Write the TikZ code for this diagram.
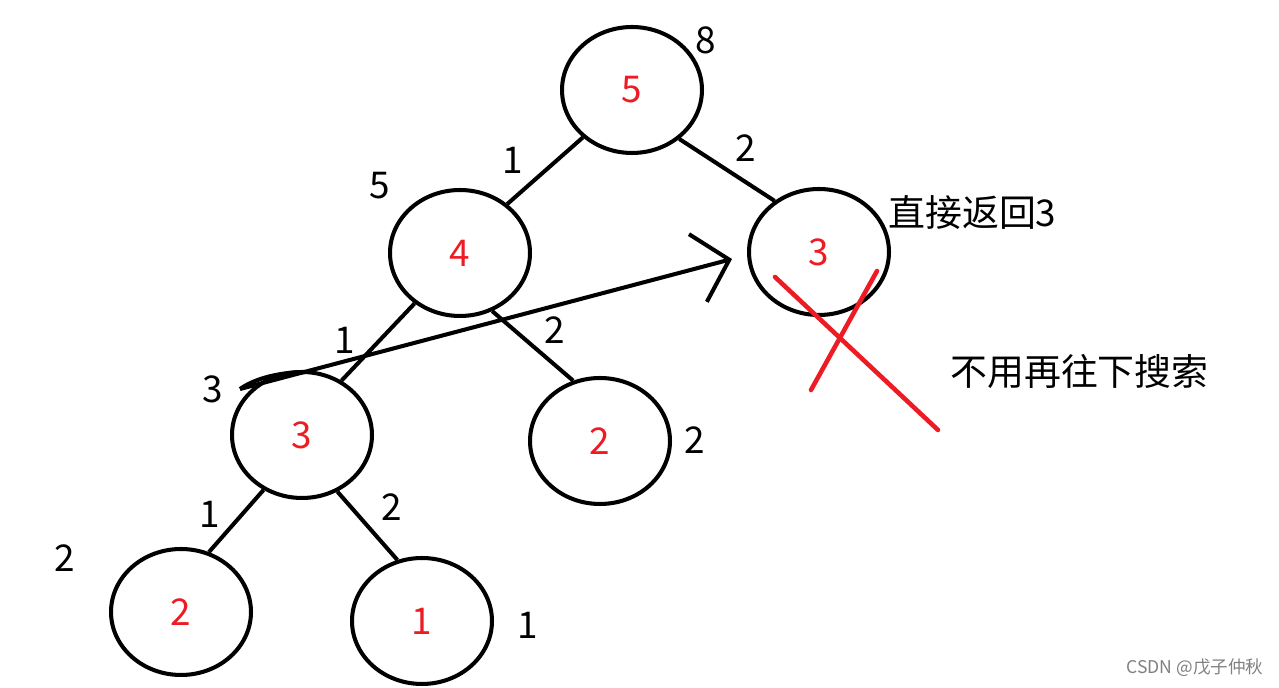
\documentclass[tikz,border=0pt]{standalone}
\usepackage{fontspec}
\setmainfont{Noto Sans CJK SC}
\usetikzlibrary{shapes.geometric,arrows.meta}
\definecolor{paintred}{RGB}{237,28,36}

\begin{document}
\begin{tikzpicture}[x=0.02cm, y=-0.02cm,
    every node/.style={font=\fontsize{21}{25}\selectfont},
    vert/.style={draw, ellipse, line width=2.3pt, minimum width=2.8cm, minimum height=2.52cm, inner sep=0pt, text=paintred},
    link/.style={line width=2.3pt},
    arr/.style={line width=2.3pt, -{Straight Barb[length=6.5mm, width=14mm]}},
    cross/.style={draw=paintred, line width=2.6pt, line cap=round},
    note/.style={anchor=west, inner sep=0pt}
]
\useasboundingbox (0,0) rectangle (1279,688);

% tree
\node[vert] (root) at (632,90) {5};
\node[vert] (n4) at (460,253) {4};
\node[vert] (r3) at (819,252) {3};
\node[vert] (l3) at (302,435) {3};
\node[vert] (m2) at (600,441) {2};
\node[vert] (b2) at (181,612) {2};
\node[vert] (b1) at (422,621) {1};

\draw[link] (root.224) -- (n4.46);
\draw[link] (root.-46) -- (r3.131);
\draw[link] (n4.228) -- (l3.54);
\draw[link] (n4.-61) -- (m2.114);
\draw[link] (l3.235) -- (b2.65);
\draw[link] (l3.-58) -- (b1.112);

% edge weights
\node (w1) at (513,160) {1};
\node (w2) at (746,148) {2};
\node (w3) at (345,340) {1};
\node (w4) at (555,330) {2};
\node (w5) at (210,514) {1};
\node (w6) at (392,507) {2};

% path sums
\node (s8) at (706,40) {8};
\node (s5) at (380,186) {5};
\node (s3) at (213,389) {3};
\node (s2a) at (695,440) {2};
\node (s2b) at (65,558) {2};
\node (s1) at (528,625) {1};

% return arrow
\coordinate (tail) at (240,389);
\draw[link] (tail) .. controls +(20,-14) and +(-15,0) .. +(65,-17);
\draw[arr] (tail) -- ([xshift=-0.3cm, yshift=-0.14cm]r3.west);

% pruned
\draw[cross] (775,277) -- (938,430);
\draw[cross] (877,271) -- (811,390);

\node[note] (ret) at (888,213) {直接返回3};
\node[note] (stop) at (950,372) {不用再往下搜索};

\node[font=\fontsize{10}{12}\selectfont, text=gray] (mark) at (1195,668) {CSDN @戊子仲秋};
\end{tikzpicture}
\end{document}
